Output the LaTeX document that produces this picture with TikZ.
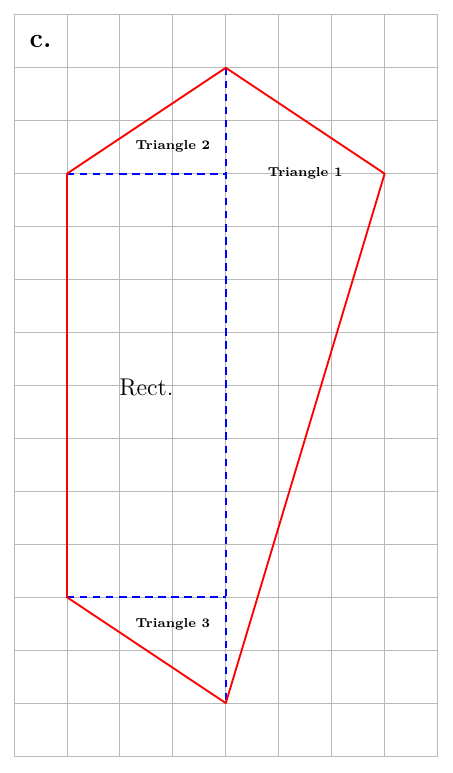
\documentclass[tikz,border=0pt]{standalone}
\begin{document}
\begin{tikzpicture}[
  gridline/.style={gray!55, line width=0.5pt},
  outline/.style={red, line width=1pt, line join=round},
  cutline/.style={blue, dash pattern=on 4pt off 3pt, line width=1pt},
  tlabel/.style={font=\fontsize{7}{8}\selectfont\bfseries, inner sep=1pt}
]
\useasboundingbox (-0.265,-0.32) rectangle (8.28,14.28);
\draw[gridline] (0,0) grid (8,14);
\coordinate (L1) at (1,11);
\coordinate (T) at (4,13);
\coordinate (R) at (7,11);
\coordinate (B) at (4,1);
\coordinate (L2) at (1,3);
\coordinate (M1) at (4,11);
\coordinate (M2) at (4,3);
\draw[cutline] (L1) -- (M1);
\draw[cutline] (T) -- (B);
\draw[cutline] (L2) -- (M2);
\draw[outline] (L1) -- (T) -- (R) -- (B) -- (L2) -- cycle;
\node[font=\Large\bfseries] (c) at (0.5,13.5) {c.};
\node[tlabel] (t2) at (3.0,11.52) {Triangle 2};
\node[tlabel] (t1) at (5.5,11.0) {Triangle 1};
\node[tlabel] (t3) at (3.0,2.49) {Triangle 3};
\node[font=\fontsize{13}{15}\selectfont] (rect) at (2.5,6.97) {Rect.};
\end{tikzpicture}
\end{document}
